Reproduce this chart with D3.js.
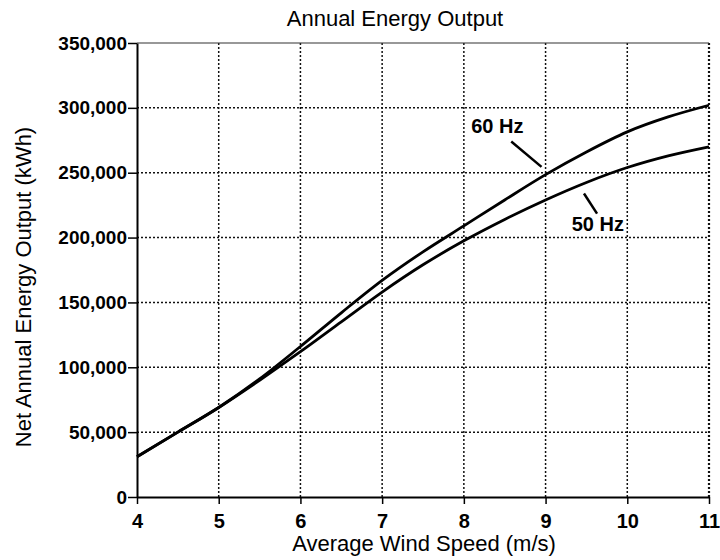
<!DOCTYPE html>
<html>
<head>
<meta charset="utf-8">
<script src="https://cdnjs.cloudflare.com/ajax/libs/d3/7.8.5/d3.min.js"></script>
<style>
    body { margin: 0; background: #fff; }
    text { font-family: "Liberation Sans", Arial, sans-serif; fill: #000; }
    .tick text { font-size: 19px; font-weight: bold; }
    .axis-text { font-size: 22px; }
</style>
</head>
<body>
<div id="plot1"></div>
<script>
// Data
var windSpeed = [4, 4.5, 5, 5.5, 6, 6.5, 7, 7.5, 8, 8.5, 9, 9.5, 10, 10.5, 11];
var output60Hz = [31000, 50000, 69000, 91000, 116000, 142000, 167000, 189000, 209000, 229000, 248500, 266000, 281500, 293000, 302000];
var output50Hz = [31000, 50000, 69000, 90000, 112000, 135000, 158000, 179000, 197500, 214000, 229000, 242500, 254000, 263000, 270000];
var xTicks = [4, 5, 6, 7, 8, 9, 10, 11];
var yTicks = [0, 50000, 100000, 150000, 200000, 250000, 300000, 350000];

// Define SVG area dimensions
var svgWidth = 720;
var svgHeight = 560;

var chartMargin = {
    top: 43,
    right: 11,
    bottom: 63,
    left: 137
};

var chartWidth = svgWidth - chartMargin.left - chartMargin.right;
var chartHeight = svgHeight - chartMargin.top - chartMargin.bottom;

var svg = d3.select("#plot1")
    .append("svg")
    .attr("height", svgHeight)
    .attr("width", svgWidth);

svg.append("rect")
    .attr("width", svgWidth)
    .attr("height", svgHeight)
    .attr("fill", "#fff");

var chartGroup = svg.append("g")
    .attr("transform", `translate(${chartMargin.left}, ${chartMargin.top})`);

// Scales
var xLinearScale = d3.scaleLinear()
    .domain([4, 11])
    .range([0, chartWidth]);

var yLinearScale = d3.scaleLinear()
    .domain([0, 350000])
    .range([chartHeight, 0]);

// Dotted grid lines
chartGroup.append("g")
    .selectAll("line")
    .data(yTicks.slice(1, -1))
    .enter()
    .append("line")
    .attr("x1", 0)
    .attr("x2", chartWidth)
    .attr("y1", d => yLinearScale(d))
    .attr("y2", d => yLinearScale(d))
    .attr("stroke", "#111")
    .attr("stroke-width", 1.5)
    .attr("stroke-dasharray", "2,2");

chartGroup.append("g")
    .selectAll("line")
    .data(xTicks.slice(1))
    .enter()
    .append("line")
    .attr("x1", d => xLinearScale(d))
    .attr("x2", d => xLinearScale(d))
    .attr("y1", 0)
    .attr("y2", chartHeight)
    .attr("stroke", "#111")
    .attr("stroke-width", d => d === 11 ? 2.2 : 1.5)
    .attr("stroke-dasharray", "2,2");

// top border
chartGroup.append("line")
    .attr("x1", 0)
    .attr("x2", chartWidth)
    .attr("y1", 0)
    .attr("y2", 0)
    .attr("stroke", "#333")
    .attr("stroke-width", 1.2);

// Axes
var bottomAxis = d3.axisBottom(xLinearScale)
    .tickValues(xTicks)
    .tickFormat(d3.format("d"))
    .tickSize(7)
    .tickPadding(10)
    .tickSizeOuter(0);

var leftAxis = d3.axisLeft(yLinearScale)
    .tickValues(yTicks)
    .tickFormat(d3.format(","))
    .tickSize(9)
    .tickPadding(1)
    .tickSizeOuter(0);

chartGroup.append("g")
    .attr("transform", `translate(0, ${chartHeight})`)
    .call(bottomAxis)
    .call(g => g.select(".domain").attr("stroke-width", 2))
    .call(g => g.selectAll(".tick line").attr("stroke-width", 1.5))
    .call(g => g.selectAll(".tick text").style("font-size", "20px"));

chartGroup.append("g")
    .call(leftAxis)
    .call(g => g.select(".domain").attr("stroke-width", 2))
    .call(g => g.selectAll(".tick line").attr("stroke-width", 1.5));

// Lines
var lineGen = d3.line()
    .x((d, i) => xLinearScale(windSpeed[i]))
    .y(d => yLinearScale(d))
    .curve(d3.curveMonotoneX);

chartGroup.append("path")
    .attr("d", lineGen(output50Hz))
    .attr("fill", "none")
    .attr("stroke", "#000")
    .attr("stroke-width", 2.8);

chartGroup.append("path")
    .attr("d", lineGen(output60Hz))
    .attr("fill", "none")
    .attr("stroke", "#000")
    .attr("stroke-width", 2.8);

// Series labels with leader lines
chartGroup.append("text")
    .attr("x", xLinearScale(8.09))
    .attr("y", yLinearScale(281000))
    .attr("font-size", "20px")
    .attr("font-weight", "bold")
    .text("60 Hz");

chartGroup.append("line")
    .attr("x1", xLinearScale(8.58))
    .attr("y1", yLinearScale(274000))
    .attr("x2", xLinearScale(8.95))
    .attr("y2", yLinearScale(254500))
    .attr("stroke", "#000")
    .attr("stroke-width", 2.5);

chartGroup.append("text")
    .attr("x", xLinearScale(9.32))
    .attr("y", yLinearScale(205000))
    .attr("font-size", "20px")
    .attr("font-weight", "bold")
    .text("50 Hz");

chartGroup.append("line")
    .attr("x1", xLinearScale(9.47))
    .attr("y1", yLinearScale(234000))
    .attr("x2", xLinearScale(9.63))
    .attr("y2", yLinearScale(218500))
    .attr("stroke", "#000")
    .attr("stroke-width", 2.5);

// Title and axis labels
svg.append("text")
    .attr("x", 395)
    .attr("y", 26)
    .attr("text-anchor", "middle")
    .attr("font-size", "22px")
    .text("Annual Energy Output");

svg.append("text")
    .attr("x", 424)
    .attr("y", 551)
    .attr("text-anchor", "middle")
    .classed("axis-text", true)
    .text("Average Wind Speed (m/s)");

svg.append("text")
    .attr("transform", "rotate(-90)")
    .attr("x", -287)
    .attr("y", 31)
    .attr("text-anchor", "middle")
    .classed("axis-text", true)
    .text("Net Annual Energy Output (kWh)");
</script>
</body>
</html>
